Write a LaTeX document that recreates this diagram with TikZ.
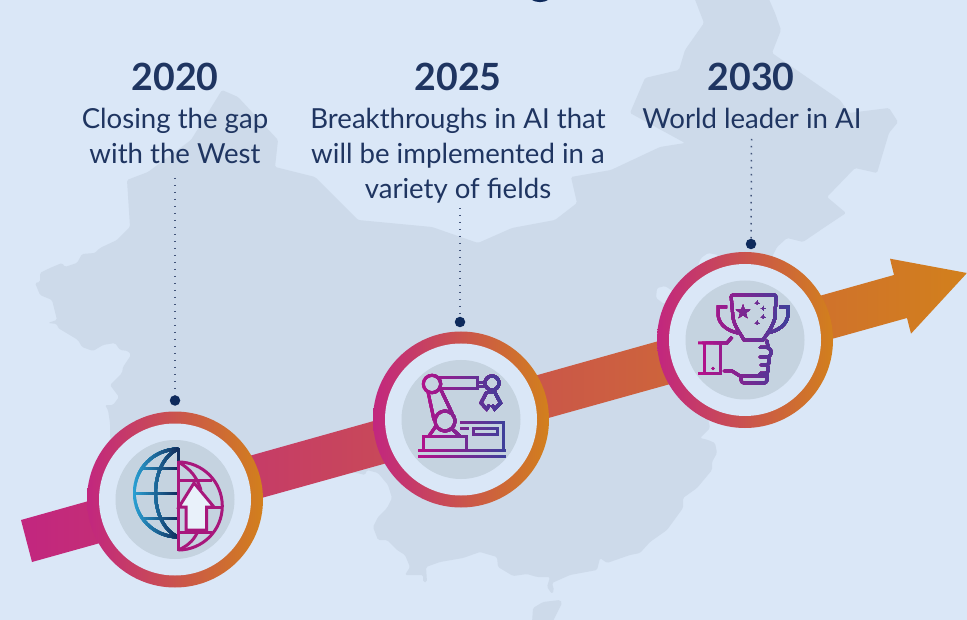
\documentclass[tikz,border=0pt]{standalone}
\usepackage{fontspec}
\setmainfont{Lato}
\definecolor{bgc}{HTML}{DAE7F7}
\definecolor{mapc}{HTML}{CDDAEA}
\definecolor{discc}{HTML}{C5D3E0}
\definecolor{inkc}{HTML}{1F3561}
\definecolor{navyc}{HTML}{0E2A5C}
\definecolor{magc}{HTML}{C2267F}
\definecolor{orc}{HTML}{D2801C}
\definecolor{icA}{HTML}{B5108A}
\definecolor{icB}{HTML}{3F3F9A}
\definecolor{glA}{HTML}{2A9FD2}
\definecolor{glB}{HTML}{12305F}
\definecolor{glM}{HTML}{A8177C}
\tikzset{
  ringo/.style={circle,minimum size=176pt,inner sep=0pt,left color=magc,right color=orc,draw=none},
  holeo/.style={circle,minimum size=152pt,inner sep=0pt,fill=bgc,draw=none},
  disco/.style={circle,minimum size=119pt,inner sep=0pt,fill=discc,draw=none},
  pindot/.style={circle,minimum size=10.5pt,inner sep=0pt,fill=navyc,draw=none},
  yearlab/.style={text=inkc,font=\fontsize{37.5}{37.5}\selectfont\bfseries,inner sep=0pt,anchor=base},
  desclab/.style={text=inkc,font=\fontsize{27.6}{35}\selectfont,inner sep=0pt,align=center,anchor=north},
  dotline/.style={draw=inkc!85,line width=1.5pt,dash pattern=on 1.5pt off 5.5pt},
  ic/.style={line width=3pt,line join=miter,line cap=butt},
  icr/.style={line width=3pt,line join=round,line cap=round},
}
% paints #5 in vertical colour slices from #3 at x=#1 to #4 at x=#2
\newcommand{\gradicon}[5]{%
  \foreach \i in {0,...,23}{%
    \pgfmathsetmacro{\pc}{100*\i/23}%
    \pgfmathsetmacro{\xa}{#1+(#2-#1)*\i/24}%
    \colorlet{icnow}{#4!\pc!#3}%
    \begin{scope}
      \clip (\xa,0) rectangle (#2+6,620);
      #5
    \end{scope}
  }%
}
\begin{document}
\begin{tikzpicture}[x=1pt,y=-1pt]
\useasboundingbox (0,0) rectangle (967,620);
\fill[bgc] (0,0) rectangle (967,620);
% map
\fill[mapc,rounded corners=1.5pt]
 (694,-3)--(704,23)--(685,50)--(679,70)--(645,78)--(630,113)--(685,143)--(660,147)--(611,170)--(571,177)--(577,203)--(555,220)--(512,228)--(478,243)--(432,227)--(358,220)--(315,177)--(275,167)--(278,140)--(238,97)--(222,90)--(191,140)--(148,172)--(127,180)--(130,227)--(117,240)--(100,248)--(95,253)--(82,254)--(77,263)--(65,267)--(62,263)--(50,268)--(40,273)--(40,282)--(35,283)--(38,290)--(40,295)--(52,300)--(57,320)--(48,323)--(57,324)--(58,328)--(78,340)--(82,347)--(93,351)--(103,345)--(115,343)--(120,350)--(128,351)--(131,355)--(123,367)--(122,373)--(110,385)--(119,397)--(113,405)--(105,405)--(108,410)--(110,423)--(110,438)--(125,455)--(175,460)--(300,470)--(357,473)--(365,475)--(367,470)--(378,473)--(388,485)--(392,498)--(387,508)--(378,517)--(373,527)--(378,540)--(387,540)--(397,550)--(405,555)--(410,567)--(405,575)--(423,575)--(423,582)--(427,582)--(426,567)--(440,562)--(463,558)--(480,552)--(497,557)--(498,567)--(513,576)--(527,574)--(537,577)--(550,577)--(547,587)--(552,594)--(554,590)--(552,583)--(570,575)--(597,570)--(600,558)--(607,563)--(630,555)--(640,553)--(650,542)--(667,530)--(683,508)--(683,498)--(697,488)--(712,470)--(712,462)--(717,453)--(715,443)--(708,440)--(700,438)--(710,428)--(700,380)--(690,320)--(672,300)--(664,304)--(656,298)--(657,288)--(665,286)--(674,292)--(695,272)--(701,258)--(708,253)--(718,255)--(722,262)--(770,262)--(773,255)--(777,247)--(787,238)--(803,242)--(825,227)--(846,213)--(827,197)--(855,168)--(877,173)--(889,133)--(898,122)--(889,108)--(849,113)--(840,100)--(821,87)--(772,53)--(781,30)--(775,13)--(768,-3)--cycle;
\fill[mapc,rounded corners=1.5pt] (532,623)--(533,608)--(543,602)--(560,600)--(562,603)--(555,617)--(552,623)--cycle;
% cut-off title descender
\draw[navyc,line width=2pt] (531,-1.5) .. controls (537,2) and (543,2) .. (549,-1.5);
% arrow
\shade[left color=magc,right color=orc]
 (21,520)--(894,275)--(890,258.7)--(967,273)--(911,333.7)--(907,318)--(32,562)--cycle;
% rings
\node[ringo] (ring1) at (175,499.5) {};
\node[holeo] (hole1) at (ring1) {};
\node[disco] (disc1) at (ring1) {};
\node[ringo] (ring2) at (461,419.5) {};
\node[holeo] (hole2) at (ring2) {};
\node[disco] (disc2) at (ring2) {};
\node[ringo] (ring3) at (745,340) {};
\node[holeo] (hole3) at (ring3) {};
\node[disco] (disc3) at (ring3) {};
% labels
\node[yearlab] (y1) at (175,91) {2020};
\node[yearlab] (y2) at (458,91) {2025};
\node[yearlab] (y3) at (751,91) {2030};
\node[desclab] (d1) at (175,107.5) {Closing the gap\\with the West};
\node[desclab] (d2) at (458,107.5) {Breakthroughs in AI that\\will be implemented in a\\variety of fields};
\node[desclab] (d3) at (752,107.5) {World leader in AI};
% pins
\node[pindot] (p1) at (175,400.5) {};
\node[pindot] (p2) at (460,322) {};
\node[pindot] (p3) at (751,244) {};
\coordinate (t1) at (175,178);
\coordinate (t2) at (460,208);
\coordinate (t3) at (751.5,139);
\draw[dotline] (t1)--(p1);
\draw[dotline] (t2)--(p2);
\draw[dotline] (t3)--(p3);
% globe, left half
\gradicon{133}{178}{glA}{glB}{%
  \draw[ic,draw=icnow] (178.3,448)--(178.3,538);
  \draw[ic,draw=icnow] (178.3,449) arc[start angle=-90,end angle=-270,radius=44];
  \draw[ic,draw=icnow] (178.3,449) .. controls (148,462) and (148,524) .. (178.3,537);
  \draw[ic,draw=icnow] (143,468)--(178,468) (134,493)--(178,493) (143,518)--(178,518);
}
% globe, right half
\begin{scope}
\draw[ic,draw=glM] (178.3,461)--(178.3,551);
\draw[ic,draw=glM] (178.3,462) arc[start angle=-90,end angle=90,radius=44];
\draw[ic,draw=glM] (178.3,462) .. controls (192,470) and (197,478) .. (201,490);
\draw[ic,draw=glM] (178.3,550) .. controls (190,545) and (195,538) .. (198,531);
\draw[ic,draw=glM] (178,480)--(212,480) (178,532)--(212,532) (208,507)--(222,507);
\draw[ic,draw=glM,fill=bgc!60!white,line join=miter] (194,483)--(179,507)--(186,507)--(186,530)--(206.5,530)--(206.5,507)--(214,507)--cycle;
\end{scope}
% robot
\gradicon{417}{506}{icA}{icB}{%
  \draw[ic,draw=icnow] (418,450)--(506,450);
  \draw[ic,draw=icnow,line width=3.4pt] (418,456.5)--(506,456.5);
  \draw[ic,draw=icnow] (423,450)--(423,436)--(466,436)--(466,450);
  \draw[ic,draw=icnow] (460,422)--(503,422)--(503,450);
  \draw[ic,draw=icnow] (460,428)--(469,428);
  \draw[ic,draw=icnow] (473,428) rectangle (497,434);
  \draw[ic,draw=icnow] (445,421) circle[radius=10];
  \draw[ic,draw=icnow] (429,436)--(436,426) (452,429)--(460,436);
  \draw[ic,draw=icnow] (432,384) circle[radius=8.7];
  \draw[ic,draw=icnow] (428,392)--(434,420) (441,390)--(452,413);
  \draw[ic,draw=icnow] (436,378)--(477,378)--(477,389)--(440,389);
  \draw[ic,draw=icnow] (477,383)--(485,383) (477,387)--(485,387);
  \draw[ic,draw=icnow] (492,383) circle[radius=7];
  \draw[ic,draw=icnow] (486.7,392)--(481,403)--(486.7,409)--(489.5,405);
  \draw[ic,draw=icnow] (494.7,392)--(500.5,403)--(494.7,409)--(492,405);
  \draw[ic,draw=icnow] (486,392.5)--(495.5,392.5);
}
% trophy and hand
\gradicon{698}{790}{icA}{icB}{%
  \draw[ic,draw=icnow,rounded corners=2pt] (733,318) -- (731,295)--(776,295)--(775,318);
  \draw[ic,draw=icnow] (733,318) .. controls (735,328) and (741,334) .. (744,340) -- (763,340) .. controls (767,334) and (772,328) .. (775,318);
  \draw[ic,draw=icnow] (727,307)--(718,307)--(718,315) .. controls (719,325) and (728,331) .. (738,333);
  \draw[ic,draw=icnow] (779,307)--(788,307)--(788,315) .. controls (787,325) and (778,331) .. (767,333);
  \fill[icnow] (743,304.5)--(744.8,309.6)--(750.2,309.7)--(745.9,313)--(747.4,318.2)--(743,315.1)--(738.6,318.2)--(740.1,313)--(735.8,309.7)--(741.2,309.6)--cycle;
  \fill[icnow] (757,303) circle[radius=1.3] (763,308.5) circle[radius=1.3] (763,317) circle[radius=1.3] (757,323) circle[radius=1.3];
  \draw[icnow,line width=.8pt] (754.5,303)--(759.5,303) (757,300.5)--(757,305.5) (760.5,308.5)--(765.5,308.5) (763,306)--(763,311) (760.5,317)--(765.5,317) (763,314.5)--(763,319.5) (754.5,323)--(759.5,323) (757,320.5)--(757,325.5);
  \draw[ic,draw=icnow] (698,343)--(727,343)--(732,337);
  \draw[ic,draw=icnow] (698,374)--(720,374)--(720,343);
  \draw[ic,draw=icnow] (704,343)--(704,374);
  \fill[icnow] (713,368.5) circle[radius=1.7];
  \draw[icr,draw=icnow] (767,341)--(768,347);
  \draw[icr,draw=icnow,rounded corners=2.5pt] (760,347.5)--(769.5,347.5)--(771.5,352)--(769.5,357)--(760,357);
  \draw[icr,draw=icnow,rounded corners=2.5pt] (768,357)--(770,361)--(768,365)--(761,365);
  \draw[icr,draw=icnow,rounded corners=2.5pt] (767,365)--(769,369)--(767,373.5)--(760,373.5);
  \draw[icr,draw=icnow,rounded corners=3pt] (767,374)--(767,383)--(741,383)--(741,376);
  \draw[icr,draw=icnow] (724,371)--(732,371)--(740,376)--(765,376);
}
\end{tikzpicture}
\end{document}
